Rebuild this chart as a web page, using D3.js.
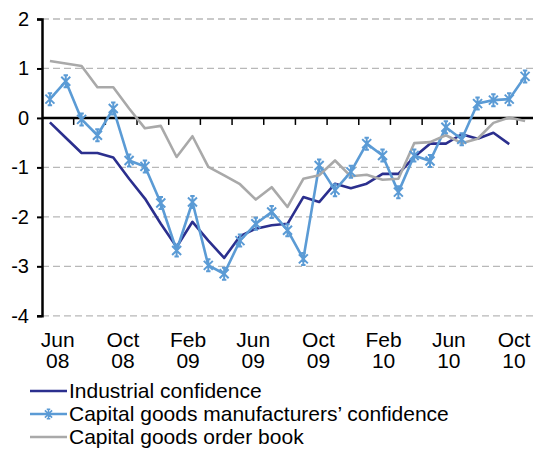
<!DOCTYPE html>
<html>
<head>
<meta charset="utf-8">
<script src="https://cdn.jsdelivr.net/npm/d3@7"></script>
<style>
  body { margin: 0; background: #fff; }
  text { font-family: "Liberation Sans", Arial, sans-serif; fill: #000; }
</style>
</head>
<body>
<script>
// monthly data, Jun 2008 to Dec 2010
var months = ["Jun 08","Jul 08","Aug 08","Sep 08","Oct 08","Nov 08","Dec 08","Jan 09",
  "Feb 09","Mar 09","Apr 09","May 09","Jun 09","Jul 09","Aug 09","Sep 09",
  "Oct 09","Nov 09","Dec 09","Jan 10","Feb 10","Mar 10","Apr 10","May 10",
  "Jun 10","Jul 10","Aug 10","Sep 10","Oct 10","Nov 10","Dec 10"];

var industrial = [-0.09,-0.40,-0.71,-0.71,-0.80,-1.23,-1.63,-2.14,
  -2.61,-2.10,-2.48,-2.83,-2.39,-2.24,-2.17,-2.14,
  -1.60,-1.70,-1.33,-1.42,-1.33,-1.13,-1.13,-0.79,
  -0.52,-0.52,-0.33,-0.42,-0.30,-0.53,null];

var capitalGoods = [0.38,0.74,-0.03,-0.35,0.19,-0.86,-0.98,-1.72,
  -2.68,-1.70,-2.98,-3.15,-2.48,-2.14,-1.90,-2.27,
  -2.85,-0.96,-1.46,-1.09,-0.52,-0.76,-1.50,-0.76,
  -0.87,-0.19,-0.43,0.29,0.36,0.38,0.84];

var orderBook = [1.15,1.10,1.05,0.62,0.62,0.19,-0.21,-0.16,
  -0.79,-0.37,-0.99,-1.16,-1.34,-1.65,-1.40,-1.80,
  -1.23,-1.16,-0.86,-1.18,-1.15,-1.25,-1.23,-0.51,
  -0.49,-0.35,-0.51,-0.42,-0.10,0.01,-0.06];

var tickLabels = [["Jun","08"],["Oct","08"],["Feb","09"],["Jun","09"],
  ["Oct","09"],["Feb","10"],["Jun","10"],["Oct","10"]];
var yTicks = [2, 1, 0, -1, -2, -3, -4];

var seriesNames = ["Industrial confidence", "Capital goods manufacturers\u2019 confidence", "Capital goods order book"];
var seriesColors = ["#2b2f8e", "#5b9bd5", "#a9a9a9"];

var width = 551, height = 450;

var svg = d3.select("body").append("svg")
    .attr("width", width)
    .attr("height", height);

var x = d3.scaleBand()
    .domain(months)
    .range([42, 533]);

var y = d3.scaleLinear()
    .domain([-4, 2])
    .range([315.8, 19]);

// gridlines
svg.append("g")
  .selectAll("line")
  .data(yTicks.filter(function(d) { return d !== 0; }))
  .enter()
  .append("line")
  .attr("x1", 42)
  .attr("x2", 533)
  .attr("y1", function(d) { return y(d); })
  .attr("y2", function(d) { return y(d); })
  .attr("stroke", "#b8b8b8")
  .attr("stroke-width", 1.3)
  .attr("stroke-dasharray", "7,4");

// y axis
var yAxis = svg.append("g")
    .attr("transform", "translate(42,0)")
    .call(d3.axisLeft(y).tickValues(yTicks).tickSize(5).tickPadding(8).tickFormat(d3.format("d")));
yAxis.select(".domain").attr("stroke", "#000").attr("stroke-width", 2.5);
yAxis.selectAll(".tick line").attr("stroke", "#000").attr("stroke-width", 2);
yAxis.selectAll(".tick text")
  .attr("font-size", "20px")
  .style("font-family", "Liberation Sans, Arial, sans-serif")
  .text(function(d) { return d < 0 ? "-" + Math.abs(d) : d; });

// x axis at zero, ticks every 2 months
var tickMonths = months.filter(function(d, i) { return i % 2 === 0; });
var xAxis = svg.append("g")
    .attr("transform", "translate(0," + y(0) + ")");
xAxis.append("line")
  .attr("x1", 42)
  .attr("x2", 533)
  .attr("stroke", "#000")
  .attr("stroke-width", 2.5);
xAxis.selectAll("line.tk")
  .data(tickMonths.slice(1))
  .enter()
  .append("line")
  .attr("class", "tk")
  .attr("x1", function(d) { return x(d); })
  .attr("x2", function(d) { return x(d); })
  .attr("y1", 0)
  .attr("y2", 7)
  .attr("stroke", "#000")
  .attr("stroke-width", 1.5);

// category labels along the bottom
var lx = d3.scalePoint()
    .domain(d3.range(tickLabels.length))
    .range([57.7, 514]);

var lab = svg.append("g").selectAll("text")
  .data(tickLabels)
  .enter()
  .append("text")
  .attr("text-anchor", "middle")
  .attr("font-size", "21px");
lab.append("tspan")
  .attr("x", function(d, i) { return lx(i); })
  .attr("y", 347)
  .text(function(d) { return d[0]; });
lab.append("tspan")
  .attr("x", function(d, i) { return lx(i); })
  .attr("y", 368)
  .text(function(d) { return d[1]; });

// lines
var line = d3.line()
    .defined(function(d) { return d !== null; })
    .x(function(d, i) { return x(months[i]) + x.bandwidth() / 2; })
    .y(function(d) { return y(d); });

var allSeries = [industrial, capitalGoods, orderBook];

svg.append("g").selectAll("path")
  .data(allSeries)
  .enter()
  .append("path")
  .attr("d", line)
  .attr("fill", "none")
  .attr("stroke", function(d, i) { return seriesColors[i]; })
  .attr("stroke-width", 2.6)
  .attr("stroke-linejoin", "round");

// star markers on capital goods series
var star = "M-4.5,-4.5L4.5,4.5M-4.5,4.5L4.5,-4.5M0,-6L0,6M-2.2,-6L2.2,-6M-2.2,6L2.2,6";

svg.append("g").selectAll("path")
  .data(capitalGoods)
  .enter()
  .append("path")
  .attr("d", star)
  .attr("transform", function(d, i) {
    return "translate(" + (x(months[i]) + x.bandwidth() / 2) + "," + y(d) + ")";
  })
  .attr("fill", "none")
  .attr("stroke", seriesColors[1])
  .attr("stroke-width", 2);

// legend
var legend = svg.append("g").selectAll("g")
  .data(seriesNames)
  .enter()
  .append("g")
  .attr("transform", function(d, i) { return "translate(0," + (391 + i * 23) + ")"; });

legend.append("line")
  .attr("x1", 30)
  .attr("x2", 67)
  .attr("stroke", function(d, i) { return seriesColors[i]; })
  .attr("stroke-width", 2.6);

legend.filter(function(d, i) { return i === 1; })
  .append("path")
  .attr("d", star)
  .attr("transform", "translate(48.5,0) scale(0.8)")
  .attr("fill", "none")
  .attr("stroke", seriesColors[1])
  .attr("stroke-width", 2);

legend.append("text")
  .attr("x", 69)
  .attr("y", 7)
  .attr("font-size", "21px")
  .text(function(d) { return d; });
</script>
</body>
</html>
